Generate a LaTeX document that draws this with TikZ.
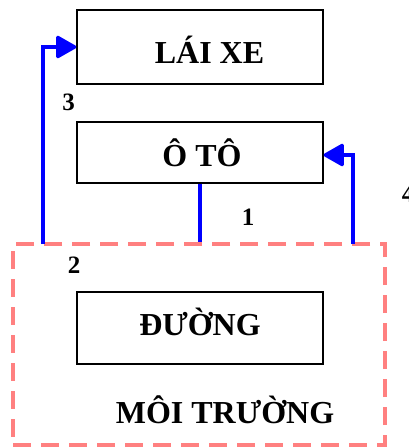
\documentclass[tikz,border=0pt]{standalone}
\usepackage{fontspec}
\setmainfont{Liberation Serif}
\usetikzlibrary{arrows.meta}
\definecolor{envred}{RGB}{255,128,128}
\tikzset{
  box/.style={draw=black, line width=1.3pt, minimum width=246pt, inner sep=0pt},
  bigtxt/.style={font=\bfseries\fontsize{32}{38}\selectfont, anchor=base, inner sep=0pt},
  numtxt/.style={font=\bfseries\fontsize{25}{29}\selectfont, anchor=base, inner sep=0pt},
  envbox/.style={draw=envred, line width=4pt, dash pattern=on 18pt off 10pt, minimum width=372pt, minimum height=201pt, inner sep=0pt},
  flow/.style={draw=blue, line width=3.3pt},
  flowarrow/.style={flow, -{Triangle[length=22pt,width=24pt,line join=round]}},
}
\begin{document}
\begin{tikzpicture}[x=1pt,y=-1pt]
\useasboundingbox (0,0) rectangle (409,448);
% boxes
\node[box, minimum height=74pt] (laixe) at (200,47) {};
\node[box, minimum height=61pt] (oto) at (200,152.5) {};
\node[box, minimum height=72pt] (duong) at (200,328) {};
\node[envbox] (env) at (199,344.5) {};
% texts
\node[bigtxt] (tlaixe) at (209.5,63) {LÁI XE};
\node[bigtxt] (toto) at (202,166) {Ô TÔ};
\node[bigtxt] (tduong) at (200,335) {ĐƯỜNG};
\node[bigtxt] (tenv) at (225,423) {MÔI TRƯỜNG};
\node[numtxt] (n3) at (68.5,110) {3};
\node[numtxt] (n1) at (248,225) {1};
\node[numtxt] (n2) at (74,273) {2};
\node[numtxt] (n4) at (408,202) {4};
% connectors
\coordinate (lstart) at (43,244);
\coordinate (rstart) at (353,244);
\draw[flowarrow] (lstart) |- (laixe.west);
\draw[flow] (oto.south) -- (oto.south |- env.north);
\draw[flowarrow] (rstart) |- ([yshift=-2.5pt]oto.east);
\end{tikzpicture}
\end{document}
